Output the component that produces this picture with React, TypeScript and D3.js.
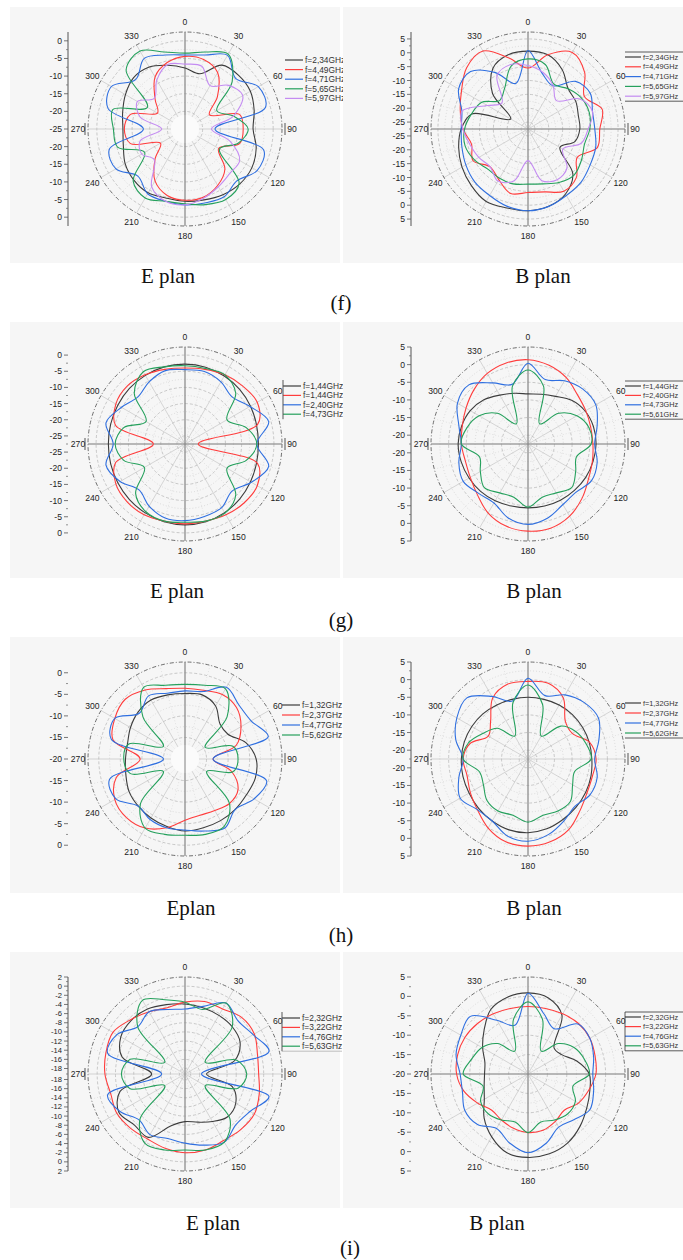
import React from "react";
import * as d3 from "d3";

// ---------- angles ----------
const ANGLES = [0, 15, 30, 45, 60, 75, 90, 105, 120, 135, 150, 165, 180, 195, 210, 225, 240, 255, 270, 285, 300, 315, 330, 345];
const ANGLE_LABELS = [0, 30, 60, 90, 120, 150, 180, 210, 240, 270, 300, 330];

// ---------- (f) E plan (dB) ----------
const fE_legend = ["f=2,34GHz", "f=4,49GHz", "f=4,71GHz", "f=5,65GHz", "f=5,97GHz"];
const fE_234 = [-7.7, -8.8, -4.1, -3.5, -3.6, -4.7, -5.7, -4.1, -3.1, -3.0, -3.5, -4.2, -4.5, -4.7, -4.1, -4.5, -5.4, -6.9, -7.4, -6.7, -5.5, -4.4, -4.7, -6.3];
const fE_449 = [-4.4, -4.6, -6.5, -12, -17, -9, -8.5, -9, -14, -9, -6.5, -5, -4.8, -5.5, -8, -13, -17, -9, -7.8, -9, -16, -13, -8, -5.5];
const fE_471 = [-4.0, -3.3, -0.9, -4.7, -1.0, -1.4, -16.5, -1.9, -1.4, -4.2, -2.8, -3.3, -3.5, -3.8, -3.8, -6.1, -2.4, -2.8, -13.2, -2.4, -0.9, -5.2, -1.9, -3.3];
const fE_565 = [-3.5, -2.4, -0.5, -6.1, -14.6, -10.8, -7.1, -9.4, -13.7, -3.3, -1.9, -2.8, -3.8, -3.8, -2.4, -4.2, -11.8, -5.2, -4.7, -3.8, -12.7, -1.4, 0.5, -2.4];
const fE_597 = [-6.6, -6.6, -10.8, -7.5, -6.1, -10.8, -17.5, -11.8, -7.1, -7.1, -6.1, -4.7, -3.5, -3.8, -6.1, -12.7, -10.8, -11.8, -18.4, -11.8, -9.4, -12.7, -9.0, -6.1];
const fE_ticksTop = [0, -5, -10, -15, -20, -25];
const fE_ticksBottom = [-20, -15, -10, -5, 0];

// ---------- (f) B plan ----------
const fB_legend = ["f=2,34GHz", "f=4,49GHz", "f=4,71GHz", "f=5,65GHz", "f=5,97GHz"];
const fB_234 = [0.6, 0.2, -2.8, -7.0, -7.6, -8.7, -8.8, -10.0, -14.2, -4.6, -0.4, 1.4, 2.0, 2.0, 2.7, 1.4, 0.0, -1.6, -3.4, -6.5, -20.3, -9.4, -2.2, 0.2];
const fB_449 = [-5.5, 0.2, 4.4, 1.4, -4, 0.2, -1.6, -1.6, -7, -2.8, -1.6, -4, -4.6, -3.4, -6.4, -8.2, -4.6, -6.4, -4, -2.2, 0.2, 3.8, 5, -1];
const fB_471 = [0.8, -7, -9.5, -3.2, -1.6, -3.4, -3.4, -2.2, -1.6, -0.4, 0.2, 1.4, 2, 1.4, 0.2, -0.4, -1.6, -2.8, -3.4, -2.8, 1.4, 1.8, -4, -10.5];
const fB_565 = [-2.2, -3.4, -8.8, -7, -5.2, -4.6, -5.2, -6.4, -5.2, -4, -5.2, -7, -7.6, -7, -7, -7, -5.2, -4, -4.6, -6.4, -8.2, -13, -10.6, -4];
const fB_597 = [-4.6, -6.4, -9.4, -13, -5.8, -3.4, -5.8, -7.6, -13, -7.6, -6.4, -8.2, -16.1, -8.2, -5.8, -8.2, -7, -5.8, -4, -2.8, -10.6, -14.2, -5.2, -3.4];
const fB_ticksTop = [5, 0, -5, -10, -15, -20, -25];
const fB_ticksBottom = [-25, -20, -15, -10, -5, 0, 5];

// ---------- (g) E plan ----------
const gE_legend = ["f=1,44GHz", "f=1,44GHz", "f=2,40GHz", "f=4,73GHz"];
const gE_144a = [-2.8, -2.9, -3.2, -3.6, -4.1, -4.6, -4.8, -4.6, -4.1, -3.5, -3.0, -2.6, -2.5, -2.6, -2.9, -3.2, -3.5, -3.7, -3.8, -3.7, -3.5, -3.2, -3.0, -2.8];
const gE_144b = [-4.0, -3.6, -2.8, -2.2, -1.7, -4.3, -23.4, -4.3, -1.7, -1.7, -2.2, -2.8, -2.8, -2.8, -2.2, -2.2, -2.8, -5.3, -17.7, -5.3, -2.8, -2.2, -2.8, -3.6];
const gE_240 = [-4.5, -4.3, -5.3, -6.9, -4.3, -0.7, -5.3, -0.7, -3.8, -6.9, -4.8, -4.3, -3.8, -3.8, -5.3, -7.4, -4.3, -2.2, -5.3, -2.2, -4.8, -6.9, -5.3, -4.0];
const gE_473 = [-3.3, -3.3, -2.8, -5.3, -12.5, -7.9, -5.3, -7.9, -12.5, -5.3, -2.8, -2.8, -3.3, -2.8, -3.3, -5.9, -13.0, -7.9, -5.9, -7.9, -13.6, -5.3, -1.7, -2.8];
const gE_ticksTop = [0, -5, -10, -15, -20, -25];
const gE_ticksBottom = [-25, -20, -15, -10, -5, 0];

// ---------- (g) B plan ----------
const gB_legend = ["f=1,44GHz", "f=2,40GHz", "f=4,73GHz", "f=5,61GHz"];
const gB_144 = [-8.3, -7.9, -6.9, -5.0, -3.8, -3.3, -3.2, -3.4, -3.6, -3.9, -4.1, -4.3, -4.4, -4.3, -3.9, -3.5, -3.2, -2.9, -2.7, -3.0, -3.6, -4.8, -6.5, -7.6];
const gB_240 = [1.4, 0.6, -0.8, -2.7, -3.6, -4.1, -4.1, -3.6, -2.7, -0.8, 1.1, 2.2, 2.2, 1.6, 0.1, -2.2, -3.6, -4.1, -3.6, -3.2, -2.2, -0.8, 0.6, 1.3];
const gB_473 = [0.4, -3.6, -1.8, -0.5, -0.3, -2.2, -3.6, -2.2, -1.7, -3.2, -2.7, -0.8, 0.3, -0.8, -3.2, -2.7, -1.3, -2.2, -3.6, -2.2, 0.6, 1.2, -2.5, -5.0];
const gB_561 = [-1.5, -5.5, -15.9, -10.2, -6.5, -4.6, -4.6, -8.3, -6.9, -5.0, -6.5, -6.9, -4.6, -6.9, -6.5, -5.0, -6.9, -8.3, -3.6, -4.6, -6.5, -10.2, -15.9, -5.5];
const gB_ticksTop = [5, 0, -5, -10, -15, -20];
const gB_ticksBottom = [-20, -15, -10, -5, 0, 5];

// ---------- (h) E plan ----------
const hE_legend = ["f=1,32GHz", "f=2,37GHz", "f=4,77GHz", "f=5,62GHz"];
const hE_132 = [-4.8, -4.6, -5.8, -8.5, -8.5, -5.4, -3.5, -3.1, -3.5, -3.5, -3.5, -3.5, -3.3, -3.8, -4.2, -4.6, -5.0, -5.8, -6.2, -6.2, -5.4, -4.6, -4.2, -4.6];
const hE_237 = [-3.6, -3.5, -2.7, -3.1, -5.0, -7.7, -13.5, -8.8, -5.8, -5.4, -6.2, -6.5, -5.8, -3.5, -1.5, -0.8, -1.2, -3.5, -9.6, -2.7, -1.2, -0.4, -1.5, -3.1];
const hE_477 = [-4.2, -3.8, -0.8, -2.3, -2.3, 0.0, -13.5, -0.4, -1.5, -3.5, -1.5, -2.7, -3.5, -3.5, -3.8, -4.6, -1.5, -1.9, -15.0, -2.3, -1.2, -5.0, -3.1, -4.2];
const hE_562 = [-2.7, -2.3, -1.2, -6.2, -14.6, -8.5, -7.7, -8.5, -14.2, -5.4, -1.9, -1.9, -2.3, -1.9, -1.5, -5.4, -14.2, -6.9, -5.8, -6.5, -14.2, -6.2, -0.8, -2.3];
const hE_ticksTop = [0, -5, -10, -15, -20];
const hE_ticksBottom = [-15, -10, -5, 0];

// ---------- (h) B plan ----------
const hB_legend = ["f=1,32GHz", "f=2,37GHz", "f=4,77GHz", "f=5,62GHz"];
const hB_132 = [-5.0, -5.0, -4.8, -4.7, -4.6, -4.5, -4.4, -4.0, -3.6, -3.2, -2.7, -2.0, -1.6, -1.7, -2.2, -2.7, -3.2, -3.4, -3.6, -3.8, -4.1, -4.4, -4.8, -5.0];
const hB_237 = [-0.5, -0.3, -2.5, -7.5, -8.0, -4.4, -3.2, -3.6, -3.2, -1.7, 0.6, 1.8, 2.2, 1.8, 0.1, -2.2, -3.6, -4.6, -4.1, -5.5, -9.5, -7.5, -2.5, -0.5];
const hB_477 = [0.4, -3.9, -1.5, 0.1, 0.6, -1.7, -3.6, -2.2, -2.2, -3.6, -2.2, -0.3, 0.8, 0.1, -2.2, -2.2, -0.3, -2.2, -4.1, -1.3, 0.8, 2.0, -2.0, -5.5];
const hB_562 = [-1.5, -6.5, -15.0, -9.3, -6.9, -5.5, -4.6, -8.8, -7.9, -5.5, -5.5, -6.0, -4.6, -6.0, -5.5, -6.0, -7.9, -8.3, -4.1, -5.0, -7.9, -10.2, -15.0, -6.0];
const hB_ticksTop = [5, 0, -5, -10, -15, -20];
const hB_ticksBottom = [-20, -15, -10, -5, 0, 5];

// ---------- (i) E plan ----------
const iE_legend = ["f=2,32GHz", "f=3,22GHz", "f=4,76GHz", "f=5,63GHz"];
const iE_232 = [-3.9, -4.2, -4.4, -4.6, -5.3, -8.0, -14.5, -8.5, -6.4, -6.0, -7.2, -8.3, -8.8, -7.5, -3.2, -3.5, -2.5, -4.5, -11.9, -5.0, -3.0, -2.6, -2.8, -3.5];
const iE_322 = [-3.5, -2.8, -2.8, -1.7, -1.7, -2.8, -3.1, -2.4, -1.7, -2.0, -2.4, -2.0, -2.0, -2.4, -2.8, -2.4, -2.0, -2.4, -1.7, -1.3, -1.0, -2.4, -3.5, -4.2];
const iE_476 = [-5.0, -3.9, -1.3, -2.8, -2.0, -0.2, -15.6, -0.2, -2.8, -3.5, -2.0, -3.1, -4.1, -4.6, -3.9, -5.0, -2.8, -1.7, -14.1, -1.7, -2.0, -4.6, -3.5, -4.6];
const iE_563 = [-3.5, -4.6, -1.3, -4.6, -14.1, -7.5, -5.7, -7.2, -14.1, -5.3, -2.0, -2.0, -2.6, -2.0, -1.7, -5.3, -14.1, -6.8, -5.3, -6.8, -14.1, -4.6, -0.6, -2.4];
const iE_ticksTop = [2, 0, -2, -4, -6, -8, -10, -12, -14, -16, -18];
const iE_ticksBottom = [-18, -16, -14, -12, -10, -8, -6, -4, -2, 0, 2];

// ---------- (i) B plan ----------
const iB_legend = ["f=2,32GHz", "f=3,22GHz", "f=4,76GHz", "f=5,63GHz"];
const iB_232 = [0.9, 0.3, -2.5, -10.5, -10.0, -7.0, -4.2, -3.5, -2.5, -1.0, 0.5, 1.3, 1.5, 1.0, -1.3, -4.0, -7.0, -8.3, -8.8, -8.5, -6.5, -4.0, -0.8, 0.5];
const iB_322 = [-2.6, -2.5, -2.1, -1.6, -1.6, -2.1, -2.5, -3.8, -5.0, -6.8, -5.9, -5.0, -4.9, -5.5, -6.3, -6.8, -5.0, -2.9, -1.6, -1.2, -1.2, -1.6, -2.1, -2.5];
const iB_476 = [0.8, -4.0, -6.5, -1.8, -1.6, -2.5, -3.3, -2.5, -1.6, -3.3, -4.2, -1.6, 0.3, -1.6, -3.8, -1.6, -1.2, -2.5, -2.5, -0.8, 0.0, 1.0, -4.0, -7.0];
const iB_563 = [-1.4, -5.5, -13.2, -8.9, -6.3, -5.0, -4.2, -8.0, -5.9, -5.5, -6.3, -7.2, -4.9, -7.2, -6.3, -5.5, -5.9, -8.0, -3.3, -5.0, -6.3, -8.9, -13.2, -5.5];
const iB_ticksTop = [5, 0, -5, -10, -15, -20];
const iB_ticksBottom = [-15, -10, -5, 0, 5];

// ---------- captions ----------
const ROW_LABELS = ["(f)", "(g)", "(h)", "(i)"];

const C = { k: "#3c3c3c", r: "#ff3c3c", b: "#2f6fe0", g: "#25a05c", v: "#c48cf2" };

const R = 97;
const W = 683;
const FONT = "'Liberation Sans', Arial, sans-serif";
const SERIF = "'Liberation Serif', 'Times New Roman', serif";

type Legend = { kind: string; dx: number; dy: number; step: number };
type Panel = {
  cx: number; cy: number; dmin: number; dmax: number; step: number;
  series: { v: number[]; c: string }[]; names: string[];
  top: number[]; bottom: number[];
  hAxis: boolean; axisLine: boolean; whiteCenter: boolean;
  legend: Legend; left: boolean;
};

const panels: Panel[] = [
  { cx: 185, cy: 129, dmin: -25, dmax: 2.5, step: 5, names: fE_legend,
    series: [{ v: fE_234, c: C.k }, { v: fE_449, c: C.r }, { v: fE_471, c: C.b }, { v: fE_565, c: C.g }, { v: fE_597, c: C.v }],
    top: fE_ticksTop, bottom: fE_ticksBottom, hAxis: false, axisLine: true, whiteCenter: true,
    legend: { kind: "rightBorder", dx: 100, dy: -69, step: 9.6 }, left: true },
  { cx: 528, cy: 129, dmin: -27.5, dmax: 7.5, step: 5, names: fB_legend,
    series: [{ v: fB_234, c: C.k }, { v: fB_449, c: C.r }, { v: fB_471, c: C.b }, { v: fB_565, c: C.g }, { v: fB_597, c: C.v }],
    top: fB_ticksTop, bottom: fB_ticksBottom, hAxis: true, axisLine: true, whiteCenter: false,
    legend: { kind: "topBottom", dx: 97, dy: -72, step: 9.8 }, left: false },
  { cx: 185, cy: 444, dmin: -27.5, dmax: 2.5, step: 5, names: gE_legend,
    series: [{ v: gE_144a, c: C.k }, { v: gE_144b, c: C.r }, { v: gE_240, c: C.b }, { v: gE_473, c: C.g }],
    top: gE_ticksTop, bottom: gE_ticksBottom, hAxis: true, axisLine: false, whiteCenter: false,
    legend: { kind: "leftBorder", dx: 98, dy: -58, step: 9.4 }, left: true },
  { cx: 528, cy: 444, dmin: -22.5, dmax: 5, step: 5, names: gB_legend,
    series: [{ v: gB_144, c: C.k }, { v: gB_240, c: C.r }, { v: gB_473, c: C.b }, { v: gB_561, c: C.g }],
    top: gB_ticksTop, bottom: gB_ticksBottom, hAxis: true, axisLine: true, whiteCenter: false,
    legend: { kind: "topBottom", dx: 97, dy: -58, step: 9.4 }, left: false },
  { cx: 185, cy: 759, dmin: -20, dmax: 2.5, step: 5, names: hE_legend,
    series: [{ v: hE_132, c: C.k }, { v: hE_237, c: C.r }, { v: hE_477, c: C.b }, { v: hE_562, c: C.g }],
    top: hE_ticksTop, bottom: hE_ticksBottom, hAxis: false, axisLine: false, whiteCenter: true,
    legend: { kind: "none", dx: 97, dy: -54, step: 10 }, left: true },
  { cx: 528, cy: 759, dmin: -22.5, dmax: 5, step: 5, names: hB_legend,
    series: [{ v: hB_132, c: C.k }, { v: hB_237, c: C.r }, { v: hB_477, c: C.b }, { v: hB_562, c: C.g }],
    top: hB_ticksTop, bottom: hB_ticksBottom, hAxis: false, axisLine: true, whiteCenter: false,
    legend: { kind: "bottom", dx: 97, dy: -56, step: 10 }, left: false },
  { cx: 185, cy: 1074, dmin: -19.2, dmax: 2, step: 2, names: iE_legend,
    series: [{ v: iE_232, c: C.k }, { v: iE_322, c: C.r }, { v: iE_476, c: C.b }, { v: iE_563, c: C.g }],
    top: iE_ticksTop, bottom: iE_ticksBottom, hAxis: false, axisLine: true, whiteCenter: false,
    legend: { kind: "leftBottom", dx: 97, dy: -56, step: 9.4 }, left: true },
  { cx: 528, cy: 1074, dmin: -20, dmax: 5, step: 5, names: iB_legend,
    series: [{ v: iB_232, c: C.k }, { v: iB_322, c: C.r }, { v: iB_476, c: C.b }, { v: iB_563, c: C.g }],
    top: iB_ticksTop, bottom: iB_ticksBottom, hAxis: true, axisLine: false, whiteCenter: false,
    legend: { kind: "box", dx: 97, dy: -57, step: 9.6 }, left: false },
];

const captions = [
  { t: "E plan", x: 168, y: 283 }, { t: "B plan", x: 543, y: 283 },
  { t: "E plan", x: 177, y: 598 }, { t: "B plan", x: 534, y: 598 },
  { t: "Eplan", x: 191, y: 915 }, { t: "B plan", x: 534, y: 915 },
  { t: "E plan", x: 213, y: 1230 }, { t: "B plan", x: 497, y: 1230 },
];
const rowLabelPos = [{ x: 341, y: 310 }, { x: 341, y: 627 }, { x: 341, y: 942 }, { x: 350, y: 1255 }];

function PolarPanel({ p }: { p: Panel }) {
  const { cx, cy } = p;
  const r = d3.scaleLinear().domain([p.dmin, p.dmax]).range([0, R]).clamp(true);
  const line = d3
    .lineRadial<number>()
    .angle((_, i) => (ANGLES[i] * Math.PI) / 180)
    .radius((v) => r(v))
    .curve(d3.curveCatmullRomClosed.alpha(0.5));

  const first = Math.ceil((p.dmin + 0.01) / p.step) * p.step;
  const major: number[] = [];
  for (let v = first; v < p.dmax - 0.01; v += p.step) major.push(v);
  const minor: number[] = [];
  if (p.step === 5) {
    for (let v = first - 2.5; v < p.dmax - 0.01; v += p.step) if (v > p.dmin + 0.5) minor.push(v);
  }
  const spokes = d3.range(0, 360, 15);
  const ax = cx - 117;
  const topY = p.top.map((v) => cy - r(v));
  const botY = p.bottom.map((v) => cy + r(v));
  const allY = [...topY, ...botY].sort((a, b) => a - b);
  const minorTicks: number[] = [];
  for (let i = 0; i < allY.length - 1; i++) {
    if (allY[i + 1] - allY[i] > 8) minorTicks.push((allY[i] + allY[i + 1]) / 2);
  }
  const lg = p.legend;
  const lx = cx + lg.dx;
  const ly0 = cy + lg.dy;
  const n = p.names.length;
  const fs = p.step === 2 ? 7.6 : 8.6;
  const lineLen = p.left ? 18 : 16;
  const textX = lx + lineLen + 2;
  const legendFs = p.left ? 8.4 : 7.3;

  return (
    <g>
      <rect x={p.left ? 10 : 343} y={cy - 122} width={p.left ? 330 : 340} height={256} fill="#f6f6f6" />
      {minor.map((v) => (
        <circle key={"mi" + v} cx={cx} cy={cy} r={r(v)} fill="none" stroke="#c8c8c8" strokeWidth={0.6} strokeDasharray="1,2" />
      ))}
      {major.map((v) => (
        <circle key={"ma" + v} cx={cx} cy={cy} r={r(v)} fill="none" stroke="#a8a8a8" strokeWidth={0.6} strokeDasharray="3,2" />
      ))}
      {spokes.map((a) => {
        const t = (a * Math.PI) / 180;
        return (
          <line key={"s" + a} x1={cx} y1={cy} x2={cx + R * Math.sin(t)} y2={cy - R * Math.cos(t)}
            stroke={a % 30 === 0 ? "#bdbdbd" : "#d4d4d4"} strokeWidth={0.6} strokeDasharray={a % 30 === 0 ? undefined : "1,2"} />
        );
      })}
      {p.whiteCenter && <circle cx={cx} cy={cy} r={14} fill="#fbfbfb" />}
      <circle cx={cx} cy={cy} r={R} fill="none" stroke="#4a4a4a" strokeWidth={0.8} strokeDasharray="4,2,1,2" />
      <line x1={cx} y1={cy - R} x2={cx} y2={cy + R} stroke="#808080" strokeWidth={1} />
      {p.hAxis && <line x1={cx - R} y1={cy} x2={cx + R} y2={cy} stroke="#8a8a8a" strokeWidth={1} />}
      <line x1={cx - R - 3} y1={cy - 6} x2={cx - R - 3} y2={cy + 6} stroke="#555" strokeWidth={1} />
      <line x1={cx + R + 3} y1={cy - 6} x2={cx + R + 3} y2={cy + 6} stroke="#555" strokeWidth={1} />
      {p.series.map((s, i) => (
        <path key={"c" + i} d={line(s.v) || ""} transform={`translate(${cx},${cy})`} fill="none" stroke={s.c} strokeWidth={1.1} />
      ))}
      {ANGLE_LABELS.map((a) => {
        const t = (a * Math.PI) / 180;
        return (
          <text key={"a" + a} x={cx + 107 * Math.sin(t)} y={cy - 107 * Math.cos(t)} fontSize={8.6} fontFamily={FONT}
            fill="#222" textAnchor="middle" dominantBaseline="central">{a}</text>
        );
      })}
      {p.axisLine && <line x1={ax} y1={cy - R} x2={ax} y2={cy + R} stroke="#555" strokeWidth={1} />}
      {minorTicks.map((y, i) => (
        <line key={"mt" + i} x1={ax - 2} y1={y} x2={ax} y2={y} stroke="#666" strokeWidth={0.7} />
      ))}
      {p.top.map((v, i) => (
        <g key={"tt" + i}>
          <line x1={ax - 4} y1={topY[i]} x2={ax} y2={topY[i]} stroke="#555" strokeWidth={0.8} />
          <text x={ax - 6} y={topY[i]} fontSize={fs} fontFamily={FONT} fill="#222" textAnchor="end" dominantBaseline="central">{v}</text>
        </g>
      ))}
      {p.bottom.map((v, i) => (
        <g key={"tb" + i}>
          <line x1={ax - 4} y1={botY[i]} x2={ax} y2={botY[i]} stroke="#555" strokeWidth={0.8} />
          <text x={ax - 6} y={botY[i]} fontSize={fs} fontFamily={FONT} fill="#222" textAnchor="end" dominantBaseline="central">{v}</text>
        </g>
      ))}
      {p.names.map((name, i) => {
        const y = ly0 + i * lg.step;
        return (
          <g key={"l" + i}>
            <line x1={lx} y1={y} x2={lx + lineLen} y2={y} stroke={p.series[i].c} strokeWidth={1.2} />
            <text x={textX} y={y} fontSize={legendFs} fontFamily={FONT} fill="#333" dominantBaseline="central">{name}</text>
          </g>
        );
      })}
      {lg.kind === "rightBorder" && (
        <line x1={lx + 61} y1={ly0 - 7} x2={lx + 61} y2={ly0 + (n - 1) * lg.step + 5} stroke="#888" strokeWidth={1} />
      )}
      {(lg.kind === "topBottom" || lg.kind === "box") && (
        <g>
          <line x1={lx} y1={ly0 - 5} x2={W} y2={ly0 - 5} stroke="#333" strokeWidth={0.8} />
          <line x1={lx} y1={ly0 + (n - 1) * lg.step + 5} x2={W} y2={ly0 + (n - 1) * lg.step + 5} stroke="#333" strokeWidth={0.8} />
        </g>
      )}
      {lg.kind === "box" && (
        <line x1={lx} y1={ly0 - 5} x2={lx} y2={ly0 + (n - 1) * lg.step + 5} stroke="#333" strokeWidth={0.8} />
      )}
      {lg.kind === "bottom" && (
        <line x1={lx} y1={ly0 + (n - 1) * lg.step + 5} x2={W} y2={ly0 + (n - 1) * lg.step + 5} stroke="#333" strokeWidth={0.8} />
      )}
      {(lg.kind === "leftBorder" || lg.kind === "leftBottom") && (
        <line x1={lx} y1={ly0 - 6} x2={lx} y2={ly0 + (n - 1) * lg.step + 5} stroke="#555" strokeWidth={1} />
      )}
      {lg.kind === "leftBottom" && (
        <line x1={lx} y1={ly0 + (n - 1) * lg.step + 5} x2={lx + 60} y2={ly0 + (n - 1) * lg.step + 5} stroke="#999" strokeWidth={0.6} />
      )}
    </g>
  );
}

export default function App() {
  return (
    <svg width={W} height={1260} viewBox="0 0 683 1260" style={{ position: "absolute", left: 0, top: 0, background: "#fff" }}>
      <rect x={0} y={0} width={W} height={1260} fill="#fff" />
      {panels.map((p, i) => (
        <PolarPanel key={i} p={p} />
      ))}
      {captions.map((c, i) => (
        <text key={"cap" + i} x={c.x} y={c.y} fontSize={21} fontFamily={SERIF} textAnchor="middle" fill="#111">{c.t}</text>
      ))}
      {ROW_LABELS.map((t, i) => (
        <text key={"rl" + i} x={rowLabelPos[i].x} y={rowLabelPos[i].y} fontSize={21} fontFamily={SERIF} textAnchor="middle" fill="#111">{t}</text>
      ))}
    </svg>
  );
}
